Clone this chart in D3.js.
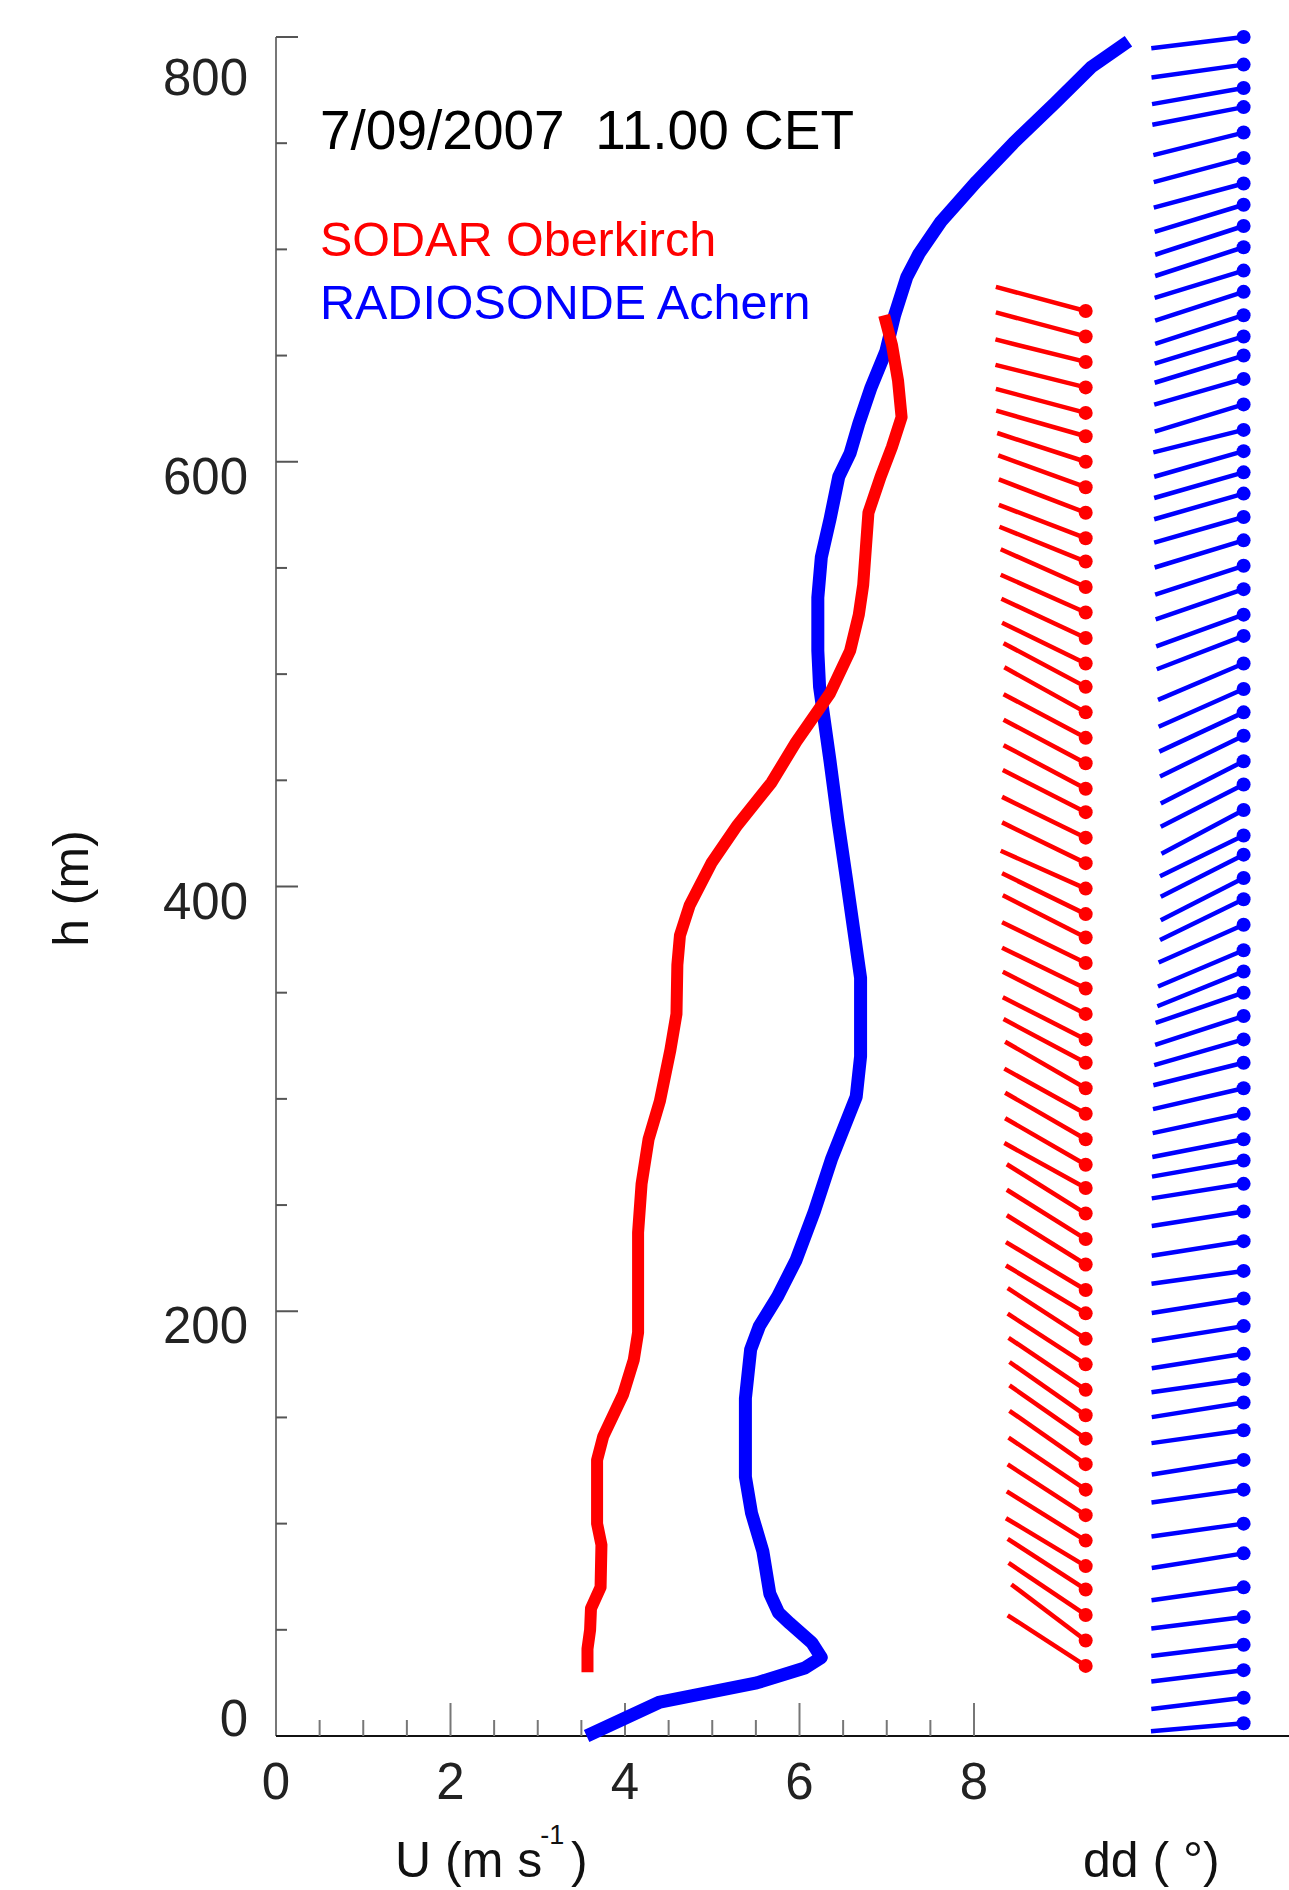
<!DOCTYPE html>
<html>
<head>
<meta charset="utf-8">
<script src="https://cdn.jsdelivr.net/npm/d3@7"></script>
<style>
  html, body { margin: 0; padding: 0; background: #fff; }
  svg { display: block; font-family: "Liberation Sans", Arial, Helvetica, sans-serif; }
</style>
</head>
<body>
<svg id="chart" width="1289" height="1890"></svg>
<script>
// ---------------- DATA ----------------
const titleText = "7/09/2007  11.00 CET";
const sodarName = "SODAR Oberkirch";
const sondeName = "RADIOSONDE Achern";

const xTickValues = [0, 2, 4, 6, 8];
const yTickValues = [0, 200, 400, 600, 800];

// SODAR wind speed profile (h in m, U in m/s)
const sodarH = [30, 41, 50, 60, 70, 90, 100, 130, 141, 161, 177, 190, 237, 260, 281, 299, 323, 340, 363, 377,
                391, 411, 429, 449, 468, 491, 511, 528, 542, 559, 576, 593, 607, 621, 638, 655, 669];
const sodarU = [3.57, 3.57, 3.60, 3.61, 3.72, 3.73, 3.68, 3.68, 3.75, 3.98, 4.10, 4.15, 4.15, 4.19, 4.27, 4.40, 4.52, 4.59, 4.60, 4.63,
                4.74, 4.99, 5.29, 5.68, 5.96, 6.35, 6.58, 6.68, 6.73, 6.76, 6.79, 6.93, 7.06, 7.17, 7.13, 7.06, 6.97];

// Radiosonde wind speed profile
const sondeH = [0, 16, 25, 32, 37, 44, 53, 58, 67, 87, 105, 122, 159, 182, 193, 207, 224, 247, 272, 301,
                320, 357, 380, 403, 431, 459, 494, 511, 536, 555, 573, 593, 604, 618, 635, 652, 669, 687, 698, 713,
                732, 750, 769, 786, 798];
const sondeU = [3.56, 4.40, 5.51, 6.06, 6.25, 6.14, 5.89, 5.76, 5.66, 5.58, 5.45, 5.38, 5.38, 5.44, 5.54, 5.75, 5.96, 6.17, 6.37, 6.65,
                6.70, 6.70, 6.62, 6.54, 6.44, 6.35, 6.23, 6.21, 6.21, 6.25, 6.35, 6.45, 6.58, 6.68, 6.82, 6.99, 7.09, 7.23, 7.37, 7.62,
                8.03, 8.45, 8.93, 9.35, 9.77];

// SODAR wind direction (dd, degrees) by height
const sodarDirH = [33, 45, 57, 69, 80, 92, 104, 116, 128, 140, 151, 163, 175, 187, 199, 210, 222, 234, 246, 258,
                   269, 281, 293, 305, 317, 328, 340, 352, 364, 376, 387, 399, 411, 423, 435, 446, 458, 470, 482, 494,
                   505, 517, 529, 541, 553, 564, 576, 588, 600, 612, 623, 635, 647, 659, 671];
const sodarDD = [303, 307, 304, 303, 301, 302, 303, 304, 305, 305, 305, 304, 303, 303, 301, 301, 302, 302, 302, 299,
                 300, 300, 299, 300, 298, 297, 297, 296, 296, 297, 296, 294, 296, 296, 297, 298, 298, 298, 299, 298,
                 296, 295, 294, 294, 292, 291, 291, 290, 288, 286, 285, 284, 284, 285, 285];

// Radiosonde wind direction by height
const sondeDirH = [6, 18, 31, 43, 56, 70, 86, 100, 116, 130, 144, 157, 168, 180, 193, 206, 219, 233, 247, 260,
                   271, 281, 293, 305, 317, 328, 339, 350, 360, 370, 382, 394, 404, 415, 424, 436, 448, 459, 471, 482,
                   493, 505, 518, 528, 540, 551, 563, 574, 585, 595, 605, 615, 627, 639, 650, 659, 669, 680, 690, 701,
                   711, 721, 731, 743, 755, 767, 776, 787, 800];
const sondeDD = [265, 263, 263, 263, 263, 262, 261, 262, 262, 261, 262, 261, 262, 261, 261, 261, 262, 261, 261, 261,
                 260, 259, 258, 257, 256, 254, 252, 251, 248, 247, 246, 244, 243, 243, 244, 242, 243, 243, 244, 245,
                 246, 247, 249, 250, 251, 252, 253, 254, 254, 254, 254, 256, 253, 254, 253, 253, 252, 252, 253, 252,
                 252, 253, 255, 255, 256, 259, 260, 262, 263];

// ---------------- LAYOUT ----------------
const RED = "#ff0000", BLUE = "#0000ff";
const svg = d3.select("#chart");

const x = d3.scaleLinear().domain([0, 8]).range([276, 974]);
const y = d3.scaleLinear().domain([0, 800]).range([1736, 37]);

const sodarColumnX = x(9.28);
const sondeColumnX = x(11.09);
const barbLen = 93;

// ---------------- AXES ----------------
const yAxisG = svg.append("g").attr("transform", `translate(${x(0)},0)`);
yAxisG.append("line").attr("x1", 0).attr("x2", 0).attr("y1", y(800)).attr("y2", y(0))
  .attr("stroke", "#777").attr("stroke-width", 2);
yAxisG.selectAll("line.ytick").data(d3.range(50, 801, 50)).join("line")
  .attr("class", "ytick")
  .attr("x1", 0).attr("x2", d => d % 200 === 0 ? 22 : 11)
  .attr("y1", d => y(d)).attr("y2", d => y(d))
  .attr("stroke", "#555").attr("stroke-width", 2);

const yLabelShift = v => v === 800 ? 58 : (v === 0 ? 0 : 32);
svg.append("g").selectAll("text").data(yTickValues).join("text")
  .attr("x", 248).attr("y", d => y(d) + yLabelShift(d))
  .attr("text-anchor", "end")
  .attr("font-size", 51).attr("fill", "#222")
  .text(d => d);

svg.append("line").attr("x1", x(0)).attr("x2", 1289).attr("y1", y(0)).attr("y2", y(0))
  .attr("stroke", "#111").attr("stroke-width", 2);
svg.append("g").selectAll("line").data(d3.range(0.5, 8.01, 0.5)).join("line")
  .attr("x1", d => x(d)).attr("x2", d => x(d))
  .attr("y1", y(0)).attr("y2", d => y(0) - (Math.abs(d % 2) < 1e-9 ? 33 : 16))
  .attr("stroke", "#777").attr("stroke-width", 2);
svg.append("g").selectAll("text").data(xTickValues).join("text")
  .attr("x", d => x(d)).attr("y", 1799)
  .attr("text-anchor", "middle")
  .attr("font-size", 51).attr("fill", "#222")
  .text(d => d);

// axis titles
svg.append("text")
  .attr("transform", `translate(88,${(y(0) + y(800)) / 2 + 2}) rotate(-90)`)
  .attr("text-anchor", "middle").attr("font-size", 50).attr("fill", "#111")
  .text("h (m)");

const ul = svg.append("text").attr("x", 395).attr("y", 1877).attr("font-size", 50).attr("fill", "#111");
ul.append("tspan").text("U (m s");
ul.append("tspan").attr("font-size", 27).attr("dx", -2).attr("dy", -33).text("-1");
ul.append("tspan").attr("x", 571).attr("dy", 33).text(")");

svg.append("text").attr("x", 1083).attr("y", 1877).attr("font-size", 50).attr("fill", "#111")
  .style("white-space", "pre").text("dd ( °)");

// ---------------- TITLE / LEGEND ----------------
svg.append("text").attr("x", 320).attr("y", 149).attr("font-size", 55).attr("fill", "#000")
  .style("white-space", "pre").text(titleText);
svg.append("text").attr("x", 320).attr("y", 256).attr("font-size", 48.5).attr("fill", RED).text(sodarName);
svg.append("text").attr("x", 320).attr("y", 319).attr("font-size", 48.5).attr("fill", BLUE).text(sondeName);

// ---------------- PROFILES ----------------
const line = d3.line().x(d => x(d[0])).y(d => y(d[1]));
const sodarPts = sodarU.map((u, i) => [u, sodarH[i]]);
const sondePts = sondeU.map((u, i) => [u, sondeH[i]]);

svg.append("path").datum(sondePts).attr("d", line)
  .attr("fill", "none").attr("stroke", BLUE).attr("stroke-width", 13)
  .attr("stroke-linejoin", "round").attr("stroke-linecap", "butt");
svg.append("path").datum(sodarPts).attr("d", line)
  .attr("fill", "none").attr("stroke", RED).attr("stroke-width", 12)
  .attr("stroke-linejoin", "round").attr("stroke-linecap", "butt");

// ---------------- WIND DIRECTION STICKS ----------------
function drawBarbs(hs, dds, cx, color) {
  const g = svg.append("g");
  const data = hs.map((h, i) => ({ h, dd: dds[i] }));
  g.selectAll("line").data(data).join("line")
    .attr("x1", cx).attr("y1", d => y(d.h))
    .attr("x2", d => cx + barbLen * Math.sin(d.dd * Math.PI / 180))
    .attr("y2", d => y(d.h) - barbLen * Math.cos(d.dd * Math.PI / 180))
    .attr("stroke", color).attr("stroke-width", 4.5);
  g.selectAll("circle").data(data).join("circle")
    .attr("cx", cx).attr("cy", d => y(d.h)).attr("r", 7)
    .attr("fill", color);
}
drawBarbs(sodarDirH, sodarDD, sodarColumnX, RED);
drawBarbs(sondeDirH, sondeDD, sondeColumnX, BLUE);
</script>
</body>
</html>
